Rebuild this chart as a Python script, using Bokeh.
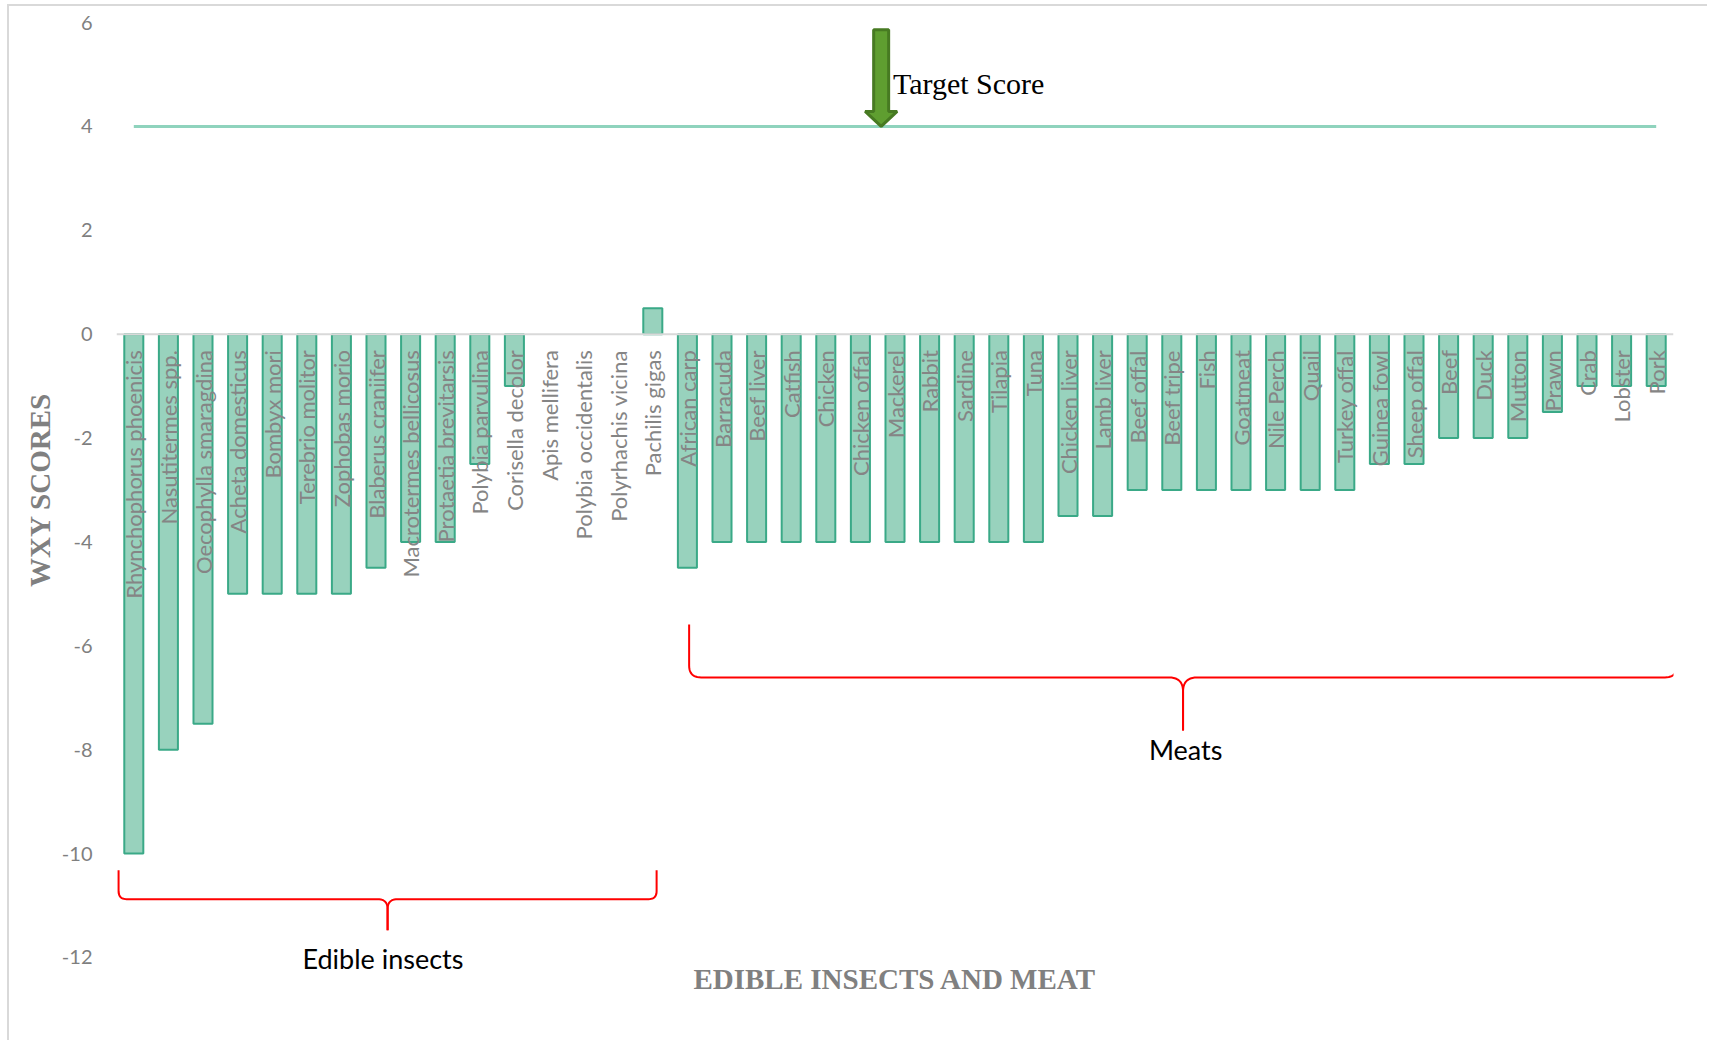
import numpy as np
from bokeh.plotting import figure
from bokeh.models import (Range1d, Span, FixedTicker, Label, ColumnDataSource, CDSView,
                          BooleanFilter, Title)
from bokeh.embed import file_html
from bokeh.resources import INLINE
from bokeh.core.properties import value

# ---------------- data ----------------
insects = ["Rhynchophorus phoenicis", "Nasutitermes spp.", "Oecophylla smaragdina",
           "Acheta domesticus", "Bombyx mori", "Terebrio molitor", "Zophobas morio",
           "Blaberus craniifer", "Macrotermes bellicosus", "Protaetia brevitarsis",
           "Polybia parvulina", "Corisella decolor", "Apis mellifera",
           "Polybia occidentalis", "Polyrhachis vicina", "Pachilis gigas"]
insect_scores = [-10, -8, -7.5, -5, -5, -5, -5, -4.5, -4, -4, -2.5, -1, 0, 0, 0, 0.5]

meats = ["African carp", "Barracuda", "Beef liver", "Catfish", "Chicken", "Chicken offal",
         "Mackerel", "Rabbit", "Sardine", "Tilapia", "Tuna", "Chicken liver", "Lamb liver",
         "Beef offal", "Beef tripe", "Fish", "Goatmeat", "Nile Perch", "Quail",
         "Turkey offal", "Guinea fowl", "Sheep offal", "Beef", "Duck", "Mutton", "Prawn",
         "Crab", "Lobster", "Pork"]
meat_scores = [-4.5, -4, -4, -4, -4, -4, -4, -4, -4, -4, -4, -3.5, -3.5, -3, -3, -3, -3,
               -3, -3, -3, -2.5, -2.5, -2, -2, -2, -1.5, -1, -1, -1]

target_score = 4
y_ticks = [-12, -10, -8, -6, -4, -2, 0, 2, 4, 6]

y_title = "WXY SCORES"
x_title = "EDIBLE INSECTS AND MEAT"
group_names = ["Edible insects", "Meats"]
target_text = "Target Score"

# ---------------- layout ----------------
categories = insects + meats
scores = insect_scores + meat_scores
n = len(categories)
xs = list(range(n))

Y_MIN, Y_MAX = -13.6, y_ticks[-1]
FRAME_W, FRAME_H = 1557, 1018
ML, MR, MT, MB = 107, 36, 16, 2
W = ML + FRAME_W + MR
H = MT + FRAME_H + MB
PX_X = FRAME_W / n
PX_Y = FRAME_H / (Y_MAX - Y_MIN)

p = figure(width=W, height=H, x_range=Range1d(-0.5, n - 0.5), y_range=Range1d(Y_MIN, Y_MAX),
           output_backend="svg", toolbar_location=None,
           min_border_left=ML, min_border_right=MR, min_border_top=MT, min_border_bottom=MB)
p.styles = {"margin-left": "7px", "margin-top": "4px",
            "border-left": "2px solid #d9d9d9", "border-top": "2px solid #d9d9d9"}
p.outline_line_color = None
p.xgrid.visible = False
p.ygrid.visible = False
p.xaxis.visible = False

yax = p.yaxis[0]
yax.ticker = FixedTicker(ticks=y_ticks)
yax.major_label_overrides = {t: str(t) for t in y_ticks}
yax.axis_line_color = None
yax.major_tick_line_color = None
yax.minor_tick_line_color = None
yax.major_tick_out = 0
yax.major_tick_in = 0
yax.minor_tick_out = 0
yax.major_label_standoff = 24
yax.major_label_text_font = "Lato"
yax.major_label_text_font_size = "20px"
yax.major_label_text_color = "#7f7f7f"

# y-axis title, centred on the -12..6 span of the scale
title_len_px = 194
frame_bottom_gap = (y_ticks[0] - Y_MIN) * PX_Y
mid_from_min = ((y_ticks[-1] - y_ticks[0]) / 2) * PX_Y
p.add_layout(Title(text=y_title, align="left", vertical_align="middle",
                   offset=frame_bottom_gap + mid_from_min - title_len_px / 2, standoff=4,
                   text_font="Liberation Serif", text_font_style="bold",
                   text_font_size="29px", text_color="#808080"), "left")

# zero line
p.add_layout(Span(location=0, dimension="width", line_color="#d9d9d9", line_width=2))

src = ColumnDataSource(dict(x=xs, score=scores, name=categories))
nonzero = CDSView(filter=BooleanFilter([s != 0 for s in scores]))
p.vbar(x="x", top="score", bottom=0, width=0.55, source=src, view=nonzero,
       fill_color="#98d2bd", line_color="#3aa987", line_width=2)

p.text(x="x", y=0, text="name", source=src, angle=np.pi / 2, y_offset=16,
       text_align="right", text_baseline="middle", text_font=value("Lato"),
       text_font_size="22px", text_color="#858585")

# target line
p.line(x=[xs[0], xs[-1]], y=[target_score, target_score], line_color="#8fd3bd", line_width=3)

# arrow pointing at target
cx = 21.6
top = 5.86
sh = 7.5 / PX_X
hh = 16 / PX_X
hl = 15 / PX_Y
ax = [cx - sh, cx + sh, cx + sh, cx + hh, cx, cx - hh, cx - sh]
ay = [top, top, target_score + hl, target_score + hl, target_score, target_score + hl, target_score + hl]
p.patch(ax, ay, fill_color="#5f9e30", line_color="#477a22", line_width=3)
p.add_layout(Label(x=cx + 0.34, y=target_score + 0.82, text=target_text,
                   text_font="Liberation Serif", text_font_size="30px", text_color="black",
                   text_baseline="alphabetic"))


def brace(x0, x1, y_top, depth, tip, r, r2):
    wpx = (x1 - x0) * PX_X
    t = np.linspace(0, 1, 12)

    def qb(p0, c, p1):
        return [((1 - s) ** 2 * p0[0] + 2 * (1 - s) * s * c[0] + s ** 2 * p1[0],
                 (1 - s) ** 2 * p0[1] + 2 * (1 - s) * s * c[1] + s ** 2 * p1[1]) for s in t]

    half = [(0, 0)]
    half += qb((0, depth - r), (0, depth), (r, depth))
    half += qb((wpx / 2 - r2, depth), (wpx / 2, depth), (wpx / 2, depth + r2))
    half += [(wpx / 2, depth + tip)]
    lx = [x0 + u / PX_X for u, v in half]
    ly = [y_top - v / PX_Y for u, v in half]
    rx = [x1 - u / PX_X for u, v in half]
    return [lx, rx], [ly, ly]


ni = len(insects)
bx, by = brace(-0.44, ni - 1 + 0.11, -10.32, 29, 31, 8, 10)
p.multi_line(bx, by, line_color="#ff0000", line_width=2)
bx, by = brace(ni + 0.05, n - 1 + 0.6, -5.59, 53, 53, 12, 14)
p.multi_line(bx, by, line_color="#ff0000", line_width=2)

p.add_layout(Label(x=(ni - 1) / 2 - 0.3, y=-12.02, text=group_names[0], text_font="Lato",
                   text_font_size="27px", text_color="black", text_align="center",
                   text_baseline="middle"))
p.add_layout(Label(x=(ni + n - 1) / 2 + 0.4, y=-7.99, text=group_names[1], text_font="Lato",
                   text_font_size="27px", text_color="black", text_align="center",
                   text_baseline="middle"))

p.add_layout(Label(x=(n - 1) / 2, y=-12.42, text=x_title, text_font="Liberation Serif",
                   text_font_style="bold", text_font_size="29px", text_color="#808080",
                   text_align="center", text_baseline="middle"))

open("out.html", "w").write(file_html(p, INLINE))
